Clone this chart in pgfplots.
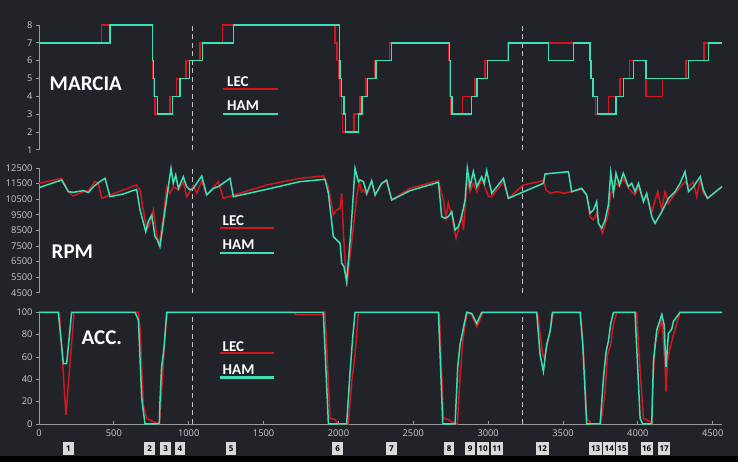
\documentclass[border=0pt]{standalone}
\usepackage{pgfplots}
\pgfplotsset{compat=1.18}
\usepackage{fontspec}
\setmainfont{Carlito}
\newfontfamily\tickfont{Open Sans}
\definecolor{bg}{HTML}{222329}
\definecolor{lec}{HTML}{D01820}
\definecolor{ham}{HTML}{3DE0B4}
\definecolor{axcol}{HTML}{9A9A9A}
\definecolor{tickcol}{HTML}{CCCCCC}
\definecolor{dashcol}{HTML}{C4C4C4}
\definecolor{boxgray}{HTML}{D9D9D9}
\tikzset{box/.style={fill=boxgray, inner sep=0pt, inner xsep=1.6pt, minimum height=13pt, minimum width=10.5pt, font=\tickfont\bfseries\fontsize{8}{8}\selectfont, text=black}}
\pgfplotsset{
  base/.style={scale only axis, width=683pt, xmin=0, xmax=4562,
    anchor=south west, clip=false, scaled ticks=false,
    axis line style={axcol, line width=0.8pt},
    every tick/.style={axcol, line width=0.8pt},
    major tick length=3pt, tick align=outside,
    tick label style={font=\tickfont\fontsize{9.3}{10}\selectfont, text=tickcol},
    /pgf/number format/assume math mode=true,
    /pgf/number format/1000 sep={},
    axis y line*=left},
  lecline/.style={lec, line width=1.5pt},
  hamline/.style={ham, line width=1.5pt},
  dline/.style={dashcol, line width=1.2pt, dash pattern=on 5pt off 3.5pt}
}
\begin{document}
\begin{tikzpicture}[x=1pt,y=1pt]
\fill[bg] (0,0) rectangle (738,462);
\fill[black] (0,0) rectangle (738,6);

% ---------- MARCIA ----------
\begin{axis}[base, at={(39pt,312.2pt)}, height=124.8pt, ymin=1, ymax=8,
  ytick={1,2,3,4,5,6,7,8}, axis x line=none]
\addplot[dline] coordinates {(1027,1) (1027,8)};
\addplot[dline] coordinates {(3228,1) (3228,8)};
\addplot[lecline, const plot] coordinates {(0,7) (419,8) (757,6) (762,5) (768,4) (775,3) (875,4) (920,5) (982,6) (1075,7) (1227,8) (1977,7) (1990,6) (2000,5) (2012,4) (2020,3) (2028,2) (2104,3) (2144,4) (2185,5) (2245,6) (2340,7) (2738,6) (2745,4) (2752,3) (2830,4) (2913,5) (2979,6) (3130,7) (3681,6) (3686,5) (3696,4) (3718,3) (3803,4) (3881,5) (3943,6) (4055,4) (4164,5) (4322,6) (4442,7) (4562,7)};
\addplot[hamline, const plot] coordinates {(0,7) (474,8) (759,6) (766,5) (772,4) (793,3) (893,4) (942,5) (1004,6) (1093,7) (1298,8) (2006,6) (2012,5) (2022,4) (2036,3) (2048,2) (2133,3) (2157,4) (2195,5) (2251,6) (2356,7) (2741,6) (2748,4) (2760,3) (2890,4) (2924,5) (2997,6) (3135,7) (3402,6) (3569,7) (3681,6) (3688,5) (3700,4) (3730,3) (3854,4) (3903,5) (3970,6) (4055,5) (4337,6) (4471,7) (4562,7)};
\end{axis}

% ---------- RPM ----------
\begin{axis}[base, at={(39pt,169.3pt)}, height=124.7pt, ymin=4500, ymax=12500,
  ytick={4500,5500,...,12500}, axis x line=none]
\addplot[dline] coordinates {(1027,4500) (1027,12500)};
\addplot[dline] coordinates {(3228,4500) (3228,12500)};
\addplot[lecline] coordinates {(0,11520) (151,11837) (196,10982) (229,10704) (296,10982) (330,11046) (374,11624) (396,11517) (419,10554) (474,10768) (652,11410) (675,11089) (719,8523) (742,8951) (764,9806) (786,8202) (802,7561) (831,9379) (853,11303) (875,10875) (897,11303) (931,11089) (964,11624) (986,10661) (1009,10982) (1031,11410) (1053,10875) (1087,11688) (1120,10768) (1198,11624) (1231,10554) (1521,11410) (1743,11837) (1899,11987) (1933,11303) (1966,9485) (1988,9806) (2011,9913) (2022,10875) (2033,8309) (2055,4889) (2100,8737) (2122,10661) (2140,11624) (2155,10982) (2167,11089) (2189,10768) (2222,11624) (2245,10768) (2289,11517) (2322,11624) (2356,10448) (2478,11196) (2668,11688) (2701,10448) (2719,9272) (2734,10234) (2757,9379) (2786,7989) (2801,8523) (2823,9485) (2835,8523) (2861,11837) (2879,10982) (2901,11517) (2924,10982) (2957,11837) (3002,10661) (3024,10661) (3102,11624) (3135,10554) (3235,11410) (3369,11688) (3387,11089) (3414,10875) (3458,10982) (3503,10875) (3558,10982) (3625,11132) (3658,10768) (3681,9379) (3703,9165) (3725,9592) (3736,9058) (3763,8309) (3781,8844) (3803,9592) (3819,10875) (3837,11089) (3854,11517) (3877,11303) (3903,11837) (3937,11196) (3981,10768) (4004,11303) (4037,10448) (4059,10661) (4093,9699) (4133,10982) (4160,9806) (4182,10982) (4204,10234) (4249,10875) (4315,11624) (4338,11303) (4371,11624) (4393,10661) (4416,11730) (4438,10875) (4465,10554) (4562,11303)};
\addplot[hamline] coordinates {(0,11240) (151,11730) (196,10982) (229,10939) (296,11046) (330,10918) (363,11303) (407,11624) (441,11837) (474,10661) (563,10832) (652,11132) (675,9806) (713,8416) (730,9058) (753,9485) (775,8096) (790,7882) (808,7455) (842,9806) (864,11303) (882,12479) (897,11517) (913,12051) (931,11196) (964,11944) (986,11303) (1009,11089) (1031,11196) (1087,11987) (1120,10768) (1165,11196) (1198,11303) (1276,11837) (1298,10661) (1521,11132) (1743,11624) (1910,11773) (1933,10875) (1966,8096) (2000,7775) (2011,7668) (2022,6385) (2037,6171) (2055,5209) (2082,8309) (2111,12479) (2133,11624) (2144,11730) (2167,11624) (2189,10875) (2222,11688) (2245,10768) (2289,11517) (2322,11730) (2356,10448) (2478,11046) (2668,11581) (2690,9379) (2712,9272) (2734,9379) (2757,9699) (2779,8523) (2801,8737) (2823,9379) (2846,10448) (2861,12479) (2879,11303) (2901,12265) (2924,11303) (2957,11944) (2974,11517) (2990,12329) (3024,10875) (3102,11837) (3135,10554) (3369,11517) (3380,12115) (3536,12265) (3558,10982) (3625,11196) (3658,10768) (3681,9592) (3703,9806) (3725,10341) (3736,8951) (3759,8630) (3781,9165) (3803,10127) (3819,12201) (3837,10875) (3854,12158) (3877,11410) (3903,12158) (3937,11303) (3959,11517) (3981,10982) (4004,11517) (4037,10341) (4059,10875) (4093,9379) (4115,8951) (4160,9699) (4204,10554) (4249,10982) (4282,11517) (4315,12265) (4338,10982) (4371,11303) (4416,11944) (4438,11089) (4465,10554) (4562,11303)};
\end{axis}

% ---------- ACC ----------
\begin{axis}[base, at={(39pt,38pt)}, height=111.7pt, ymin=0, ymax=100,
  ytick={0,20,...,100}, xtick={0,500,...,4500}, axis x line*=bottom,
  tick align=inside, ytick style={xshift=-3pt},
  xticklabel style={yshift=-2pt}, yticklabel style={xshift=-3pt}]
\addplot[dline] coordinates {(1027,0) (1027,100)};
\addplot[dline] coordinates {(3228,0) (3228,100)};
\addplot[lecline] coordinates {(0,100) (136,100) (180,8) (234,100) (663,100) (675,86) (697,17) (719,5) (764,2) (804,0) (819,29) (842,80) (857,100) (1700,100) (1715,98) (1890,98) (1910,100) (1944,5) (1977,4) (2000,0) (2066,0) (2089,38) (2111,62) (2133,100) (2674,100) (2701,5) (2734,4) (2757,2) (2779,0) (2794,0) (2812,41) (2830,74) (2846,89) (2861,100) (2890,98) (2924,87) (2968,100) (3329,100) (3365,62) (3376,59) (3409,80) (3436,100) (3618,100) (3641,56) (3658,5) (3692,0) (3752,0) (3781,29) (3797,62) (3819,71) (3837,89) (3859,100) (3992,100) (4004,71) (4037,5) (4082,2) (4093,0) (4099,32) (4115,71) (4137,83) (4160,93) (4182,53) (4188,29) (4197,56) (4215,68) (4238,80) (4260,90) (4282,100) (4562,100)};
\addplot[hamline] coordinates {(0,100) (129,100) (163,54) (185,54) (218,100) (641,100) (664,93) (686,23) (708,0) (804,0) (808,20) (819,51) (835,68) (853,100) (1899,100) (1933,0) (2055,0) (2078,47) (2095,77) (2111,100) (2668,100) (2697,0) (2779,0) (2797,51) (2812,71) (2823,78) (2839,89) (2857,100) (2890,99) (2924,90) (2957,100) (3324,100) (3347,62) (3369,47) (3391,71) (3414,83) (3429,100) (3614,100) (3632,71) (3658,0) (3748,0) (3770,41) (3788,65) (3803,74) (3819,90) (3837,100) (3981,100) (4015,5) (4033,0) (4093,0) (4104,56) (4126,84) (4160,98) (4175,89) (4188,51) (4204,81) (4226,85) (4238,92) (4255,95) (4282,100) (4562,100)};
\foreach \xx/\lab in {196/1,739/2,846/3,942/4,1283/5,1995/6,2353/7,2739/8,2879/9,2966/10,3059/11,3362/12,3718/13,3809/14,3894/15,4059/16,4175/17}{
  \edef\tmp{\noexpand\node[box] at (axis cs:\xx,0) [yshift=-24.5pt] {\lab};}\tmp
}
\end{axis}

% ---------- titles and legends ----------
\node[anchor=base west, inner sep=0, text=white, font=\bfseries\fontsize{21}{21}\selectfont] at (49.5,371.3) {MARCIA};
\node[anchor=base west, inner sep=0, text=white, font=\bfseries\fontsize{21}{21}\selectfont] at (51.5,203.7) {RPM};
\node[anchor=base west, inner sep=0, text=white, font=\bfseries\fontsize{21}{21}\selectfont] at (81.5,117.7) {ACC.};

\draw[lec, line width=2.4pt] (223,373) -- (278,373);
\draw[ham, line width=2.4pt] (223,348) -- (278,348);
\node[anchor=base west, inner sep=0, text=white, font=\bfseries\fontsize{15}{15}\selectfont] at (227,375) {LEC};
\node[anchor=base west, inner sep=0, text=white, font=\bfseries\fontsize{15}{15}\selectfont] at (227,351) {HAM};

\draw[lec, line width=2.4pt] (220,233.7) -- (274,233.7);
\draw[ham, line width=2.4pt] (220,208.7) -- (274,208.7);
\node[anchor=base west, inner sep=0, text=white, font=\bfseries\fontsize{15}{15}\selectfont] at (222.5,236) {LEC};
\node[anchor=base west, inner sep=0, text=white, font=\bfseries\fontsize{15}{15}\selectfont] at (222.5,212) {HAM};

\draw[lec, line width=2.4pt] (220,109) -- (274,109);
\draw[ham, line width=2.4pt] (220,84.3) -- (274,84.3);
\node[anchor=base west, inner sep=0, text=white, font=\bfseries\fontsize{15}{15}\selectfont] at (222.5,110.3) {LEC};
\node[anchor=base west, inner sep=0, text=white, font=\bfseries\fontsize{15}{15}\selectfont] at (222.5,87) {HAM};
\end{tikzpicture}
\end{document}
